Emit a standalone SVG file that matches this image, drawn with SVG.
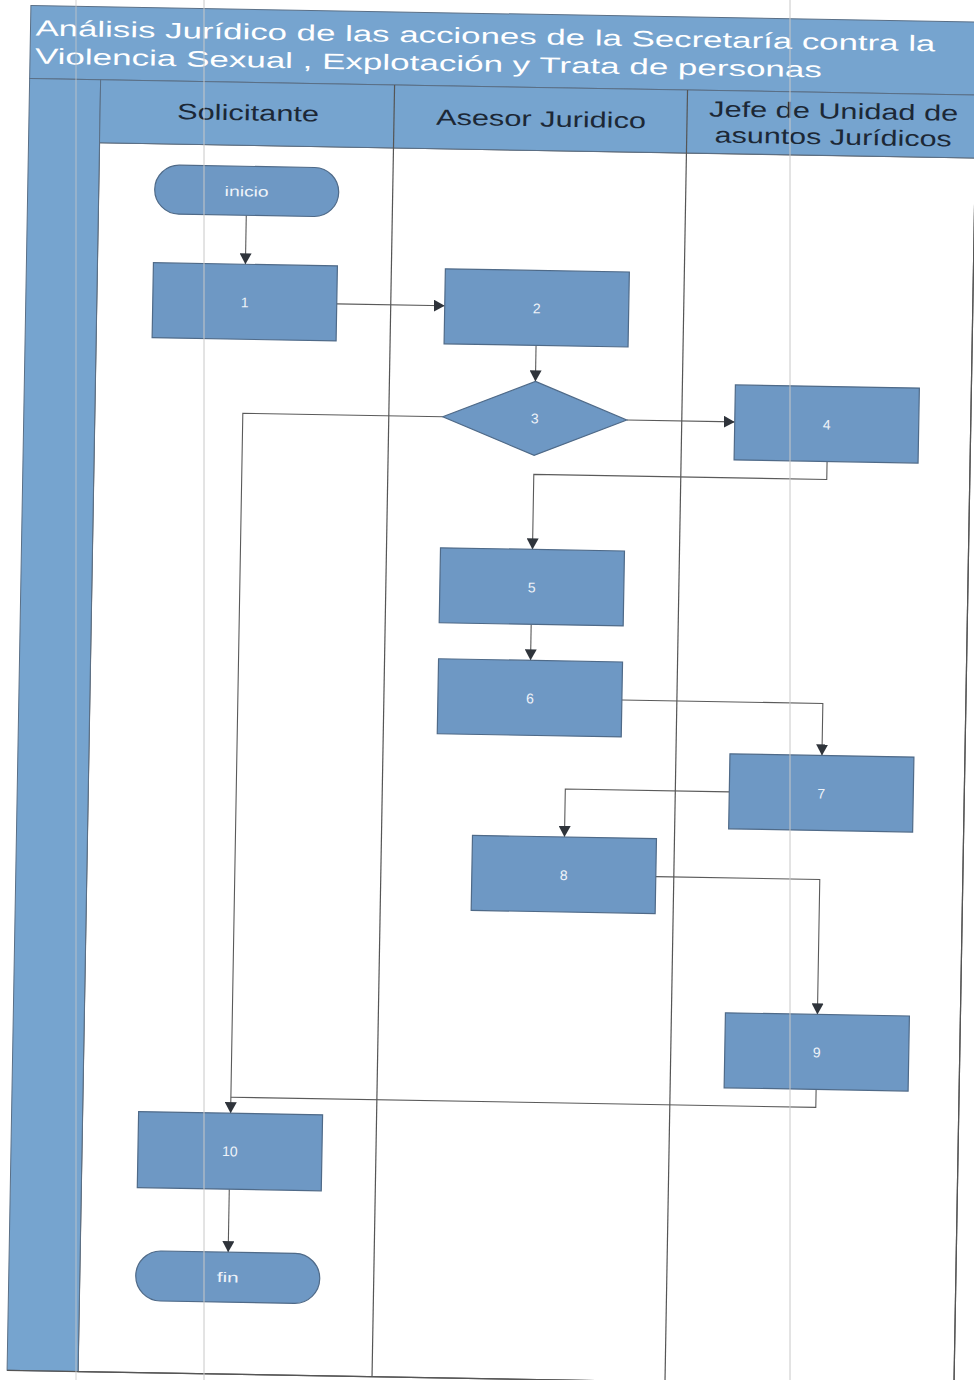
<svg xmlns="http://www.w3.org/2000/svg" width="974" height="1380" viewBox="0 0 974 1380">
  <style>
    .band { fill: #76a4cf; stroke: #5a6f86; stroke-width: 1; }
    .lane { fill: none; stroke: #555555; stroke-width: 1.2; }
    .node { fill: #6e98c4; stroke: #4f6a88; stroke-width: 1.2; }
    .lbl { font-family: "Liberation Sans", Arial, sans-serif; font-size: 14px; fill: #eef3f9; text-anchor: middle; }
    .title { font-family: "Liberation Sans", Arial, sans-serif; font-size: 22px; fill: #ffffff; }
    .head { font-family: "Liberation Sans", Arial, sans-serif; font-size: 22px; fill: #1c2836; }
    .conn { fill: none; stroke: #5a5a5a; stroke-width: 1.1; }
    .scan { stroke: #c8c8c8; stroke-width: 1; }
  </style>
  <defs>
    <marker id="arrow" markerUnits="userSpaceOnUse" markerWidth="12" markerHeight="12" refX="11" refY="6" orient="auto">
      <path d="M0,0 L11,6 L0,12 z" fill="#2f343b"/>
    </marker>
  </defs>
  <rect x="0" y="0" width="974" height="1380" fill="#ffffff"/>
  <g transform="rotate(1)">
    <g id="frame">
      <rect x="102" y="141" width="876" height="1229" fill="#ffffff" stroke="#555555" stroke-width="1.2"/>
      <rect class="band" x="31" y="5" width="947" height="73"/>
      <rect class="band" x="31" y="78" width="71" height="1292"/>
      <rect class="band" x="102" y="78" width="876" height="63"/>
      <line class="lane" x1="396" y1="78" x2="396" y2="1370"/>
      <line class="lane" x1="689" y1="78" x2="689" y2="1370"/>
      <line class="lane" x1="978" y1="78" x2="978" y2="1370"/>
      <line class="lane" x1="31" y1="1370" x2="978" y2="1370"/>
      <text class="title" x="36" y="35" textLength="900" lengthAdjust="spacingAndGlyphs">Análisis Jurídico de las acciones de la Secretaría contra la</text>
      <text class="title" x="36" y="63" textLength="787" lengthAdjust="spacingAndGlyphs">Violencia Sexual , Explotación y Trata de personas</text>
      <text class="head" x="179" y="116" textLength="142" lengthAdjust="spacingAndGlyphs">Solicitante</text>
      <text class="head" x="438" y="117" textLength="210" lengthAdjust="spacingAndGlyphs">Asesor Juridico</text>
      <text class="head" x="711" y="104" textLength="249" lengthAdjust="spacingAndGlyphs">Jefe de Unidad de</text>
      <text class="head" x="717" y="130" textLength="237" lengthAdjust="spacingAndGlyphs">asuntos Jurídicos</text>
    </g>
    <g id="connectors">
      <path class="conn" d="M250,211 V260" marker-end="url(#arrow)"/>
      <path class="conn" d="M342,298 H450" marker-end="url(#arrow)"/>
      <path class="conn" d="M542,336 V372" marker-end="url(#arrow)"/>
      <path class="conn" d="M634,409 H742" marker-end="url(#arrow)"/>
      <path class="conn" d="M450,409 H250 V1109" marker-end="url(#arrow)"/>
      <path class="conn" d="M835,447 V465 H542 V540" marker-end="url(#arrow)"/>
      <path class="conn" d="M542,615 V651" marker-end="url(#arrow)"/>
      <path class="conn" d="M634,689 H835 V741" marker-end="url(#arrow)"/>
      <path class="conn" d="M743,779 H579 V827" marker-end="url(#arrow)"/>
      <path class="conn" d="M671,865 H835 V1000" marker-end="url(#arrow)"/>
      <path class="conn" d="M835,1075 V1093 H250"/>
      <path class="conn" d="M250,1185 V1248" marker-end="url(#arrow)"/>
    </g>
    <g id="n-inicio">
      <rect class="node" x="158" y="162" width="184" height="49" rx="24.5"/>
      <text class="lbl" x="250" y="192" textLength="44" lengthAdjust="spacingAndGlyphs">inicio</text>
    </g>
    <g id="n1">
      <rect class="node" x="158" y="260" width="184" height="75"/>
      <text class="lbl" x="250" y="303">1</text>
    </g>
    <g id="n2">
      <rect class="node" x="450" y="261" width="184" height="75"/>
      <text class="lbl" x="542" y="304">2</text>
    </g>
    <g id="n3">
      <polygon class="node" points="542,372 634,409 542,446 450,409"/>
      <text class="lbl" x="542" y="414">3</text>
    </g>
    <g id="n4">
      <rect class="node" x="742" y="372" width="184" height="75"/>
      <text class="lbl" x="834" y="415">4</text>
    </g>
    <g id="n5">
      <rect class="node" x="450" y="540" width="184" height="75"/>
      <text class="lbl" x="542" y="583">5</text>
    </g>
    <g id="n6">
      <rect class="node" x="450" y="651" width="184" height="75"/>
      <text class="lbl" x="542" y="694">6</text>
    </g>
    <g id="n7">
      <rect class="node" x="743" y="741" width="184" height="75"/>
      <text class="lbl" x="835" y="784">7</text>
    </g>
    <g id="n8">
      <rect class="node" x="487" y="827" width="184" height="75"/>
      <text class="lbl" x="579" y="870">8</text>
    </g>
    <g id="n9">
      <rect class="node" x="743" y="1000" width="184" height="75"/>
      <text class="lbl" x="835" y="1043">9</text>
    </g>
    <g id="n10">
      <rect class="node" x="158" y="1109" width="184" height="76"/>
      <text class="lbl" x="250" y="1152">10</text>
    </g>
    <g id="n-fin">
      <rect class="node" x="158" y="1248" width="184" height="50" rx="25"/>
      <text class="lbl" x="250" y="1278" textLength="22" lengthAdjust="spacingAndGlyphs">fin</text>
    </g>
  </g>
  <g id="scan-lines">
    <line class="scan" x1="76" y1="0" x2="76" y2="1380" stroke-opacity="0.8"/>
    <line class="scan" x1="204" y1="0" x2="204" y2="1380"/>
    <line class="scan" x1="790" y1="0" x2="790" y2="1380"/>
  </g>
</svg>
